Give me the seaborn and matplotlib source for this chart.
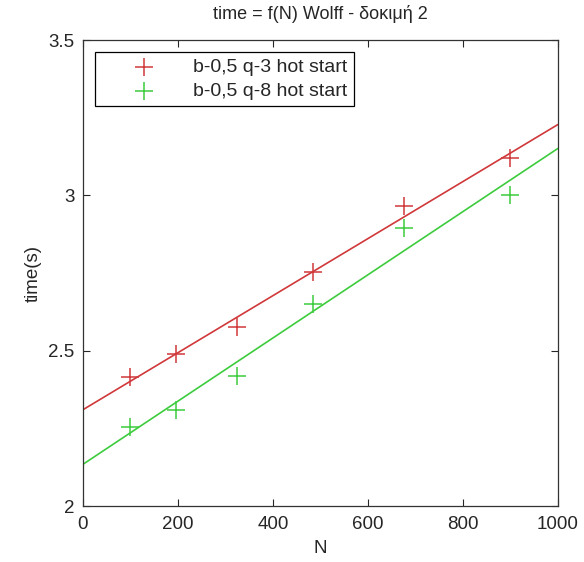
"""time = f(N) for Wolff runs, two q values, with linear fits."""
import matplotlib
matplotlib.use("Agg")
import matplotlib.pyplot as plt
import numpy as np
import pandas as pd
import seaborn as sns

sns.set_style("ticks")
plt.rcParams["font.family"] = ["Liberation Sans", "DejaVu Sans"]
plt.rcParams["xtick.direction"] = "in"
plt.rcParams["ytick.direction"] = "in"

N = [100, 196, 324, 484, 676, 900]
time_q3 = [2.415, 2.49, 2.575, 2.755, 2.965, 3.12]
time_q8 = [2.255, 2.31, 2.42, 2.65, 2.895, 3.0]
labels = ["b-0,5 q-3 hot start", "b-0,5 q-8 hot start"]
colors = ["#d0383a", "#3ccc3c"]

df = pd.DataFrame({
    "N": N * 2,
    "time": time_q3 + time_q8,
    "run": [labels[0]] * len(N) + [labels[1]] * len(N),
})

fig = plt.figure(figsize=(5.84, 5.62), dpi=100)
ax = fig.add_axes([0.142, 0.0996, 0.813, 0.829])
ax.set_xlim(0, 1000)
ax.set_ylim(2, 3.5)

for lab, c in zip(labels, colors):
    sub = df[df["run"] == lab]
    sns.regplot(data=sub, x="N", y="time", ax=ax, ci=None, truncate=False,
        marker="+", color=c, label=lab,
        scatter_kws=dict(s=170, linewidths=1.1, alpha=1),
        line_kws=dict(linewidth=1.2))

ax.set_xlim(0, 1000)
ax.set_ylim(2, 3.5)
ax.set_xticks(np.arange(0, 1001, 200))
ax.set_yticks([2, 2.5, 3, 3.5])
ax.set_yticklabels(["2", "2.5", "3", "3.5"])
ax.tick_params(top=True, right=True, labelsize=13.5, length=5, width=0.8)
ax.tick_params(axis="x", pad=7)
ax.tick_params(axis="y", pad=6)
for sp in ax.spines.values():
    sp.set_linewidth(0.9)
    sp.set_color("#333333")

ax.set_xlabel("N", fontsize=13.5, labelpad=5)
ax.set_ylabel("time(s)", fontsize=13.5, labelpad=5)
ax.set_title("time = f(N) Wolff - δοκιμή 2", fontsize=13, pad=15)

handles = [ax.collections[0], ax.collections[1]]
leg = ax.legend(handles, labels, loc="upper left", fontsize=14, frameon=True,
    fancybox=False, edgecolor="black", framealpha=1,
    borderaxespad=0.6, handlelength=4.4, handletextpad=0.3,
    borderpad=0.35, labelspacing=0.3)
leg.get_frame().set_linewidth(0.9)

plt.savefig("out.png", dpi=100)
plt.close()
